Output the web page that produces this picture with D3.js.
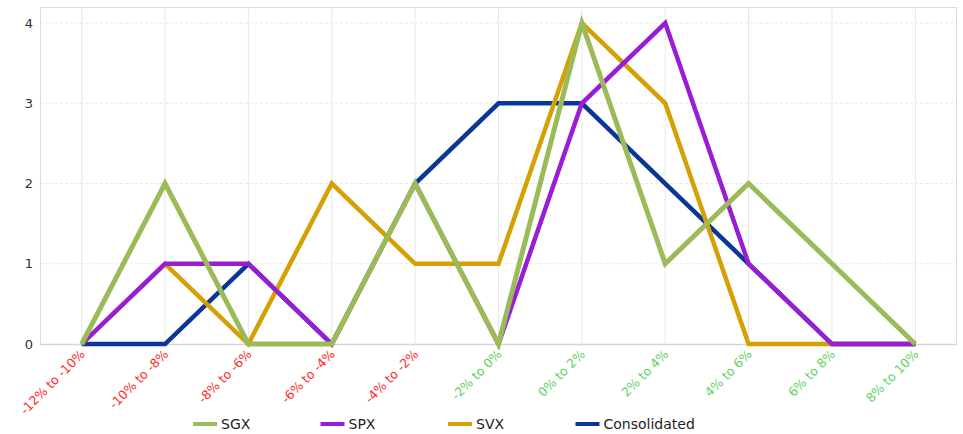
<!DOCTYPE html>
<html>
<head>
<meta charset="utf-8">
<script src="https://cdn.jsdelivr.net/npm/d3@7"></script>
<style>
  body { margin: 0; background: #fff; }
  svg { display: block; font-family: "DejaVu Sans", Verdana, sans-serif; }
</style>
</head>
<body>
<svg id="main-svg" width="963" height="434"></svg>
<script>
// Categories and series values
const categories = ['-12% to -10%', '-10% to -8%', '-8% to -6%', '-6% to -4%', '-4% to -2%',
    '-2% to 0%', '0% to 2%', '2% to 4%', '4% to 6%', '6% to 8%', '8% to 10%'];
const sgx = [0, 2, 0, 0, 2, 0, 4, 1, 2, 1, 0];
const spx = [0, 1, 1, 0, 2, 0, 3, 4, 1, 0, 0];
const svx = [0, 1, 0, 2, 1, 1, 4, 3, 0, 0, 0];
const consolidated = [0, 0, 1, 0, 2, 3, 3, 2, 1, 0, 0];
const yTicks = [0, 1, 2, 3, 4];

const series = [
    { name: 'SGX', values: sgx, color: '#9bbb59', width: 5 },
    { name: 'SPX', values: spx, color: '#9a1dd6', width: 4.5 },
    { name: 'SVX', values: svx, color: '#d4a003', width: 4.5 },
    { name: 'Consolidated', values: consolidated, color: '#0a3797', width: 4.5 },
];

const svg = d3.select('#main-svg');
const margin = { left: 40, right: 6, top: 7, bottom: 90 };
const W = 963, H = 434;

const x = d3.scalePoint()
    .domain(categories)
    .range([margin.left, W - margin.right])
    .padding(0.5);
const y = d3.scaleLinear()
    .domain([0, 4.2])
    .range([H - margin.bottom, margin.top]);

// grid
const grid = svg.append('g');
grid.selectAll('.vgrid')
    .data(categories)
    .enter()
    .append('line')
    .attr('x1', d => x(d)).attr('x2', d => x(d))
    .attr('y1', y(4.2)).attr('y2', y(0))
    .attr('stroke', '#e8e8e8');
grid.selectAll('.hgrid')
    .data(yTicks.filter(d => d > 0))
    .enter()
    .append('line')
    .attr('x1', margin.left).attr('x2', W - margin.right)
    .attr('y1', d => y(d)).attr('y2', d => y(d))
    .attr('stroke', '#e8e8e8')
    .attr('stroke-dasharray', '3,2');
grid.append('rect')
    .attr('x', margin.left + 0.5).attr('y', y(4.2) + 0.5)
    .attr('width', W - margin.right - margin.left - 1)
    .attr('height', y(0) - y(4.2))
    .attr('fill', 'none')
    .attr('stroke', '#dcdcdc');
grid.append('line')
    .attr('x1', margin.left).attr('x2', W - margin.right)
    .attr('y1', y(0) + 0.5).attr('y2', y(0) + 0.5)
    .attr('stroke', '#d6d6d6').attr('stroke-width', 1.5);

// y axis labels
svg.append('g')
    .selectAll('text')
    .data(yTicks)
    .enter()
    .append('text')
    .attr('x', 33)
    .attr('y', d => y(d))
    .attr('dy', '0.35em')
    .attr('text-anchor', 'end')
    .attr('font-size', 13)
    .attr('fill', '#333')
    .text(d => d);

// x axis labels
svg.append('g')
    .selectAll('text')
    .data(categories)
    .enter()
    .append('text')
    .attr('transform', d => `translate(${x(d) + 4}, ${y(0) + 11}) rotate(-45)`)
    .attr('text-anchor', 'end')
    .attr('font-size', 12.5)
    .attr('fill', (d, i) => i < 5 ? '#ff2a2a' : '#5fd35f')
    .text(d => d);

// lines, drawn so SGX ends up on top
const line = d3.line()
    .x((d, i) => x(categories[i]))
    .y(d => y(d));
svg.append('g')
    .selectAll('path')
    .data(series.slice().reverse())
    .enter()
    .append('path')
    .attr('d', d => line(d.values))
    .attr('fill', 'none')
    .attr('stroke', d => d.color)
    .attr('stroke-width', d => d.width)
    .attr('stroke-linejoin', 'miter');

// legend
const legend = svg.append('g')
    .selectAll('.legend')
    .data(series)
    .enter()
    .append('g')
    .attr('transform', (d, i) => `translate(${193 + i * 127.5}, 424)`);
legend.append('line')
    .attr('x1', 0).attr('x2', 24)
    .attr('stroke', d => d.color)
    .attr('stroke-width', 4);
legend.append('text')
    .attr('x', 28)
    .attr('dy', '0.35em')
    .attr('font-size', 14)
    .attr('fill', '#222')
    .text(d => d.name);
</script>
</body>
</html>
